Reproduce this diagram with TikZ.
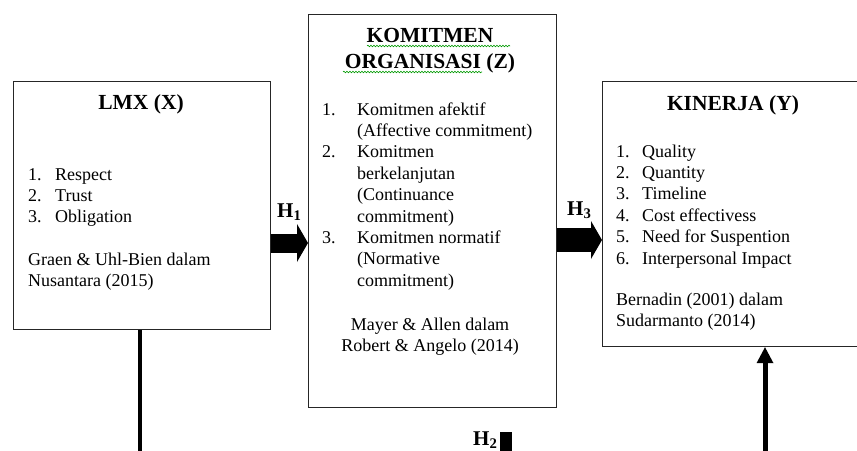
\documentclass[tikz,border=0pt]{standalone}
\usepackage{fontspec}
\setmainfont{Liberation Serif}
\usetikzlibrary{arrows.meta,decorations.pathmorphing}
\begin{document}
\begin{tikzpicture}[x=1pt,y=-1pt,
  box/.style={draw=black!85,line width=1.2pt,inner sep=0pt,anchor=north west},
  titletext/.style={font=\fontsize{21.5}{26}\selectfont\bfseries,inner sep=0pt,anchor=base},
  body/.style={font=\fontsize{18}{21.4}\selectfont,inner sep=0pt,anchor=base west},
  bodyc/.style={font=\fontsize{18}{21.4}\selectfont,inner sep=0pt,anchor=base},
  hlab/.style={font=\fontsize{21}{25}\selectfont\bfseries,inner sep=0pt,anchor=base west},
  fatarrow/.style={line width=#1,-{Triangle[length=11pt 0 0,width=38pt 0 0,line width=0pt]}},
  thinarrow/.style={line width=5pt,-{Triangle[length=16pt 0 0,width=17pt 0 0,line width=0pt]}},
  spell/.style={draw=green!60!black,line width=0.6pt,decorate,decoration={snake,amplitude=0.8pt,segment length=3pt}}
]
\useasboundingbox (0,0) rectangle (857,450);
\clip (0,0) rectangle (857,450);

% boxes
\node[box,minimum width=257pt,minimum height=248pt] (lmx) at (13,81) {};
\node[box,minimum width=248pt,minimum height=393pt] (kom) at (308,14) {};
\node[box,minimum width=290pt,minimum height=265pt] (kin) at (602,81) {};

% LMX text
\node[titletext] (lmxt) at (141,109) {LMX (X)};
\node[body] (lmxl) at (28,180) {\begin{tabular}[t]{@{}l@{}}
\makebox[27pt][l]{1.}Respect\\
\makebox[27pt][l]{2.}Trust\\
\makebox[27pt][l]{3.}Obligation
\end{tabular}};
\node[body] (lmxs) at (28,265) {\begin{tabular}[t]{@{}l@{}}
Graen \& Uhl-Bien dalam\\
Nusantara (2015)
\end{tabular}};

% Komitmen text
\node[titletext] (komt) at (430,42) {\begin{tabular}[t]{@{}c@{}}KOMITMEN\\ORGANISASI (Z)\end{tabular}};
\draw[spell] (367,46) -- (510,46);
\draw[spell] (343,72) -- (482,72);
\node[body] (koml) at (322,115) {\begin{tabular}[t]{@{}l@{}}
\makebox[35pt][l]{1.}Komitmen afektif\\
\makebox[35pt][l]{}(Affective commitment)\\
\makebox[35pt][l]{2.}Komitmen\\
\makebox[35pt][l]{}berkelanjutan\\
\makebox[35pt][l]{}(Continuance\\
\makebox[35pt][l]{}commitment)\\
\makebox[35pt][l]{3.}Komitmen normatif\\
\makebox[35pt][l]{}(Normative\\
\makebox[35pt][l]{}commitment)
\end{tabular}};
\node[bodyc] (koms) at (430,330) {\begin{tabular}[t]{@{}c@{}}
Mayer \& Allen dalam\\
Robert \& Angelo (2014)
\end{tabular}};

% Kinerja text
\node[titletext] (kint) at (733,110) {KINERJA (Y)};
\node[body] (kinl) at (616,157) {\begin{tabular}[t]{@{}l@{}}
\makebox[26pt][l]{1.}Quality\\
\makebox[26pt][l]{2.}Quantity\\
\makebox[26pt][l]{3.}Timeline\\
\makebox[26pt][l]{4.}Cost effectivess\\
\makebox[26pt][l]{5.}Need for Suspention\\
\makebox[26pt][l]{6.}Interpersonal Impact
\end{tabular}};
\node[body] (kins) at (616,305) {\begin{tabular}[t]{@{}l@{}}
Bernadin (2001) dalam\\
Sudarmanto (2014)
\end{tabular}};

% connectors
\draw[fatarrow=19pt] (lmx.east |- 0,243) -- (kom.west |- 0,243);
\draw[fatarrow=24pt] (kom.east |- 0,240) -- (kin.west |- 0,240);
\coordinate (lbot) at (140,470);
\coordinate (rbot) at (765,470);
\draw[line width=4pt] (lmx.south -| lbot) -- (lbot);
\draw[thinarrow] (rbot) -- (kin.south -| rbot);
\fill (500,432) rectangle (512,455);

% hypothesis labels
\node[hlab] (h1) at (277,217) {H\textsubscript{1}};
\node[hlab] (h3) at (567,215) {H\textsubscript{3}};
\node[hlab] (h2) at (473,445) {H\textsubscript{2}};
\end{tikzpicture}
\end{document}
